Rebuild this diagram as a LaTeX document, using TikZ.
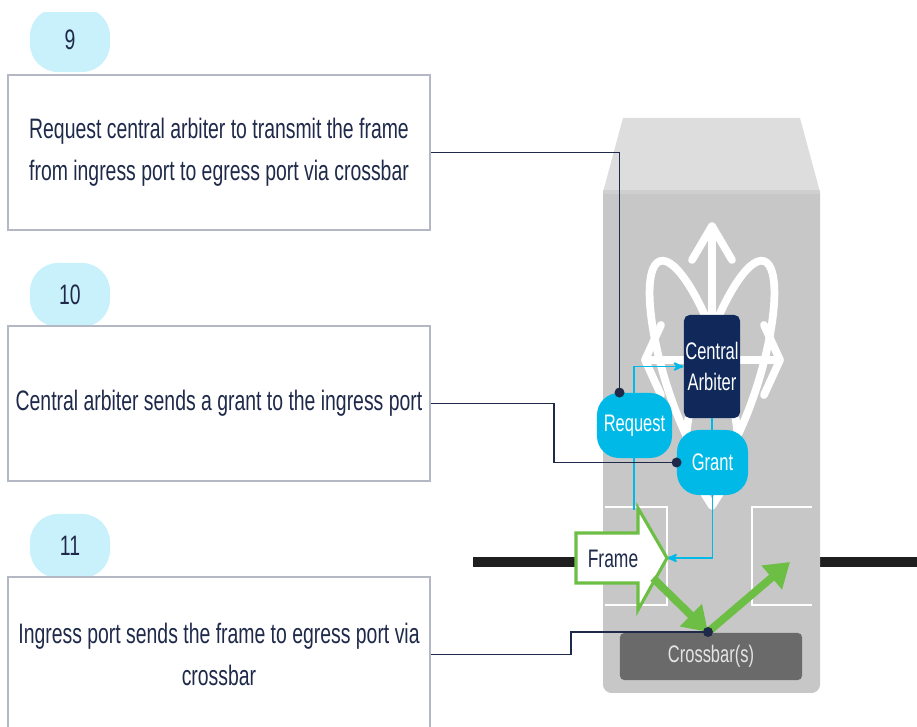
\documentclass[tikz,border=0pt]{standalone}
\usepackage{fontspec}
\setmainfont[FakeStretch=0.69]{Liberation Sans}
\usepackage{tikz}
\usetikzlibrary{arrows,arrows.meta,calc}

\definecolor{ink}{HTML}{1F2A4A}
\definecolor{badgecyan}{HTML}{C8F1FB}
\definecolor{boxline}{HTML}{B4B8C4}
\definecolor{pill}{HTML}{00B9E6}
\definecolor{arbnavy}{HTML}{10295A}
\definecolor{topgray}{HTML}{DDDDDD}
\definecolor{bodygray}{HTML}{C7C7C7}
\definecolor{xbargray}{HTML}{6A6A6A}
\definecolor{framegreen}{HTML}{6CBE45}

\begin{document}
\begin{tikzpicture}[x=0.025cm,y=-0.025cm,>=stealth',
                    semithick]
  \tikzstyle{badge}=[fill=badgecyan,rounded corners=0.7cm,
    minimum width=2cm,minimum height=1.6cm,text=ink,
    font=\fontsize{20}{24}\selectfont]
  \tikzstyle{stepbox}=[draw=boxline,line width=1pt,fill=white,
    minimum width=10.55cm,minimum height=3.875cm,align=center,
    text=ink,font=\fontsize{20}{30}\selectfont]
  \tikzstyle{msg}=[fill=pill,rounded corners=0.55cm,text=white,
    minimum height=1.625cm,font=\fontsize{17}{20}\selectfont]
  \tikzstyle{link}=[draw=ink,line width=1.4pt]
  \tikzstyle{flow}=[draw=pill,line width=1.4pt]
  \tikzstyle{logo}=[draw=white,line width=5.5pt,line cap=round,
    line join=round]
  \tikzstyle{push}=[draw=framegreen,line width=5.5pt,
    -{Triangle[length=0.6cm,width=0.75cm]}]
  \useasboundingbox (0,0) rectangle (917,727);

  % step labels
  \node[badge] (b9)  at (70,40)  {9};
  \fill[white] (0,0) rectangle (917,12);
  \node[badge] (b10) at (70,295) {10};
  \node[badge] (b11) at (70,546) {11};
  \node[stepbox] (s9)  at (219,152.5)
    {Request central arbiter to transmit the frame\\
     from ingress port to egress port via crossbar};
  \node[stepbox] (s10) at (219,403.5)
    {Central arbiter sends a grant to the ingress port};
  \node[stepbox] (s11) at (219,654.5)
    {Ingress port sends the frame to egress port via\\crossbar};

  % uplink cable and switch chassis
  \draw[line width=7pt,draw=black!88] (473,562) -- (603,562)
                                     (820,562) -- (917,562);
  \fill[topgray] (623,118) -- (800,118) -- (820,192) -- (603,192) -- cycle;
  \fill[bodygray] (603,192) [rounded corners=6] -- (603,693) -- (820,693)
    [sharp corners] -- (820,192) -- cycle;
  \fill[bodygray!85!white] (603,190) rectangle (820,194);

  % switch emblem
  \draw[logo, rotate around={17:(694,372)}] (694,372) ellipse [x radius=30, y radius=116];
  \draw[logo, rotate around={-17:(730,372)}] (730,372) ellipse [x radius=30, y radius=116];
  \draw[logo] (712,226) -- (712,316) (692,260) -- (712,226) -- (732,260);
  \draw[logo] (645,360) -- (684,360) (661,325) -- (645,360) -- (661,395);
  \draw[logo] (740,360) -- (780,360) (764,325) -- (780,360) -- (764,395);
  \draw[logo] (697,482) -- (712,506) -- (727,482);

  % port outlines
  \draw[white,line width=1.4pt] (605,507) -- (667,507) -- (667,605) -- (605,605)
                                (812,507) -- (752,507) -- (752,605) -- (812,605);

  \node[fill=arbnavy,rounded corners=4,text=white,minimum width=1.4cm,
    minimum height=2.575cm,align=center,inner sep=1pt,
    font=\fontsize{17}{22}\selectfont] (arb) at (712,366.5) {Central\\Arbiter};
  \node[fill=xbargray,rounded corners=3,text=white!90!black,minimum width=4.55cm,
    minimum height=1.175cm,font=\fontsize{17}{20}\selectfont] (xbar) at (711,656.5) {Crossbar(s)};

  \coordinate (fhead) at (634,510);
  \coordinate (ftip)  at (667,558);
  \coordinate (hub)   at (708,632);

  % request and grant handshake
  \draw[flow,->] (fhead) |- (arb.west);
  \node[msg,minimum width=1.875cm] (req) at (634.5,425.5) {Request};
  \draw[flow] (arb.south) -- ++(0,14);
  \node[msg,minimum width=1.775cm] (grant) at (712.5,462.5) {Grant};
  \draw[flow,->] (grant.south) |- (ftip);

  % frame through the crossbar
  \draw[draw=framegreen,fill=white,line width=2.2pt] (576,533) -- (638,533)
    -- (638,508) -- (ftip) -- (638,610) -- (638,583) -- (576,583) -- cycle;
  \node[text=ink,font=\fontsize{18}{20}\selectfont] (frame) at (613,559) {Frame};
  \draw[push] (653,578) -- (hub);
  \draw[push] (hub) -- (790,562);

  % callouts
  \draw[link] (s9.east) -| ($(req.north)+(-15,0)$);
  \draw[link] (s10.east) -- ++(123,0) |- (grant.west);
  \draw[link] (s11.east) -- ++(140,0) |- (hub);
  \fill[ink] ($(req.north)+(-15,0)$) circle (5);
  \fill[ink] (grant.west) circle (5);
  \fill[ink] (hub) circle (5);
\end{tikzpicture}
\end{document}
